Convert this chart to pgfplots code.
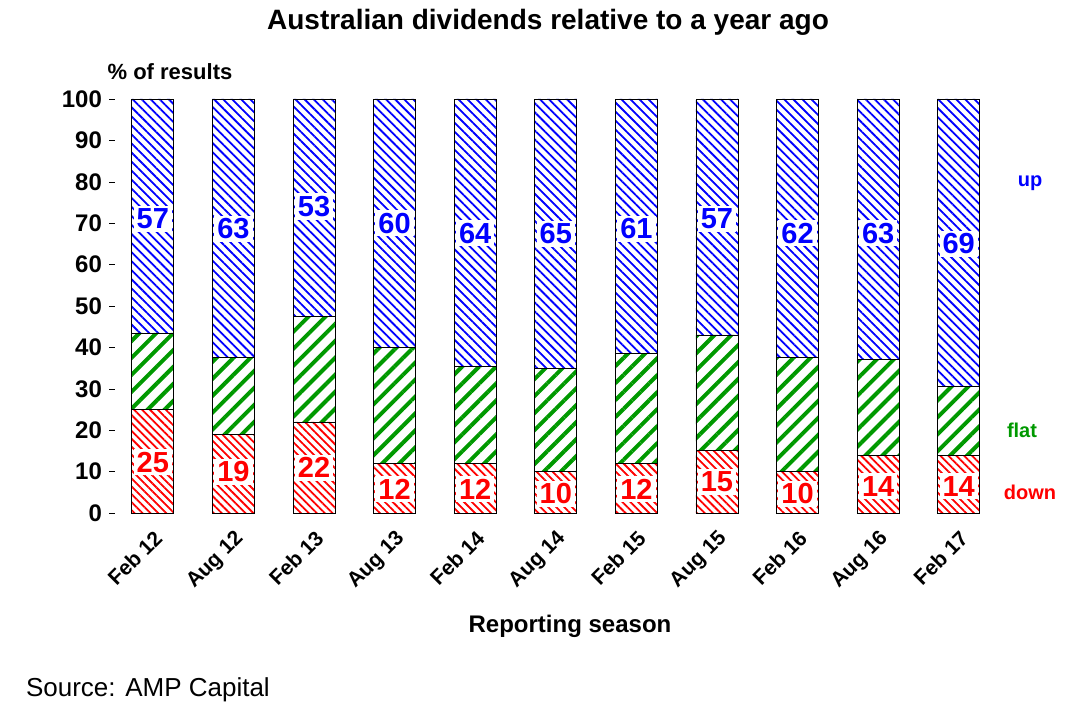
\documentclass[border=0pt]{standalone}
\usepackage{pgfplots}
\pgfplotsset{compat=1.18}
\usetikzlibrary{patterns.meta}
\usepackage{fontspec}
\setmainfont{Liberation Sans}
\begin{document}
\begin{tikzpicture}
\path[use as bounding box] (-57.5pt,-107pt) rectangle (483.5pt,256.5pt);
\begin{axis}[at={(0,0)}, anchor=south west, scale only axis,
 width=442pt, height=207pt,
 ybar stacked, bar width=21pt,
 xmin=-0.47, xmax=10.5, ymin=0, ymax=100,
 axis line style={draw=none},
 ytick={0,10,...,100}, xtick={0,...,10}, ytick pos=left,
 xticklabels={Feb 12,Aug 12,Feb 13,Aug 13,Feb 14,Aug 14,Feb 15,Aug 15,Feb 16,Aug 16,Feb 17},
 xticklabel style={rotate=45, anchor=north east, font=\bfseries\fontsize{10.5}{12}\selectfont},
 yticklabel style={font=\bfseries\fontsize{12}{14}\selectfont},
 /pgf/number format/assume math mode=true,
 tick align=outside, xtick style={draw=none}, ytick style={black}, major tick length=3pt,
 clip=false,
]
\addplot[draw=black, pattern={Lines[angle=-45,distance=2.8pt,line width=0.9pt]}, pattern color=red] coordinates {(0,25)(1,19)(2,22)(3,12)(4,12)(5,10)(6,12)(7,15)(8,10)(9,14)(10,14)};
\addplot[draw=black, pattern={Lines[angle=45,distance=6pt,line width=2pt]}, pattern color=green!60!black] coordinates {(0,18.5)(1,18.5)(2,25.5)(3,28)(4,23.5)(5,25)(6,26.5)(7,28)(8,27.5)(9,23)(10,16.5)};
\addplot[draw=black, pattern={Lines[angle=-45,distance=3.2pt,line width=0.9pt]}, pattern color=blue] coordinates {(0,56.5)(1,62.5)(2,52.5)(3,60)(4,64.5)(5,65)(6,61.5)(7,57)(8,62.5)(9,63)(10,69.5)};
\end{axis}
\begin{axis}[at={(0,0)}, anchor=south west, scale only axis,
 width=442pt, height=207pt, xmin=-0.47, xmax=10.5, ymin=0, ymax=100,
 hide axis, clip=false,
 /pgf/number format/assume math mode=true,
 nodes near coords, point meta=explicit,
 every node near coord/.append style={font=\bfseries\fontsize{14.5}{16}\selectfont, fill=white, inner sep=1.5pt, anchor=center},
]
\addplot[only marks, mark=none, nodes near coords style={text=blue}] coordinates {(0,71)[57](1,68.6)[63](2,74)[53](3,70)[60](4,67.6)[64](5,67.4)[65](6,68.6)[61](7,71)[57](8,67.6)[62](9,67.6)[63](10,65)[69]};
\addplot[only marks, mark=none, nodes near coords style={text=red}] coordinates {(0,12.3)[25](1,9.9)[19](2,10.9)[22](3,5.8)[12](4,5.8)[12](5,4.6)[10](6,5.8)[12](7,7.5)[15](8,4.6)[10](9,6.5)[14](10,6.5)[14]};
\end{axis}
\node[font=\bfseries\fontsize{14}{16}\selectfont] at (216.5pt,245.5pt) {Australian dividends relative to a year ago};
\node[font=\bfseries\fontsize{11}{13}\selectfont] at (27.5pt,220.5pt) {\% of results};
\node[font=\bfseries\fontsize{12}{14}\selectfont] at (227.5pt,-56.5pt) {Reporting season};
\node[font=\fontsize{13}{15}\selectfont, anchor=west] at (-48pt,-88.5pt) {Source: AMP Capital};
\node[font=\bfseries\fontsize{10}{12}\selectfont, text=blue] at (457.5pt,165pt) {up};
\node[font=\bfseries\fontsize{10}{12}\selectfont, text=green!60!black] at (453.5pt,41.5pt) {flat};
\node[font=\bfseries\fontsize{10}{12}\selectfont, text=red] at (457.5pt,10.5pt) {down};
\end{tikzpicture}
\end{document}
